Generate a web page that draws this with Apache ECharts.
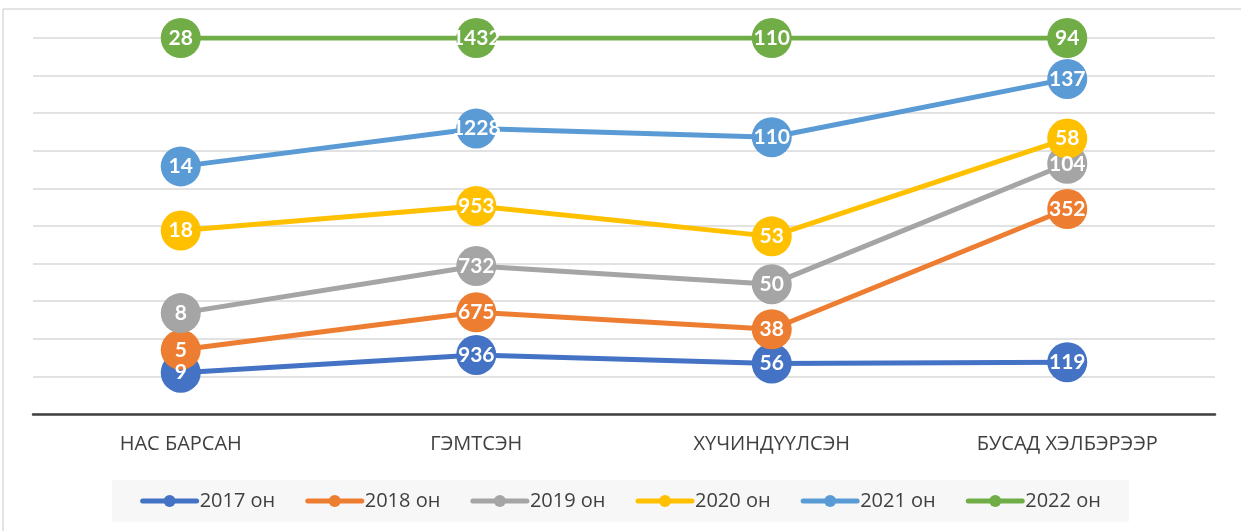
<!DOCTYPE html>
<html><head><meta charset="utf-8">
<script src="https://cdn.jsdelivr.net/npm/echarts@6/dist/echarts.min.js"></script>
<style>html,body{margin:0;padding:0;background:#fff}#c{width:1241px;height:531px}</style>
</head><body><div id="c"></div>
<script>
const categories = ['НАС БАРСАН', 'ГЭМТСЭН', 'ХҮЧИНДҮҮЛСЭН', 'БУСАД ХЭЛБЭРЭЭР'];
const seriesNames = ['2017 он', '2018 он', '2019 он', '2020 он', '2021 он', '2022 он'];
const v2017 = [9, 936, 56, 119];
const v2018 = [5, 675, 38, 352];
const v2019 = [8, 732, 50, 104];
const v2020 = [18, 953, 53, 58];
const v2021 = [14, 1228, 110, 137];
const v2022 = [28, 1432, 110, 94];
const yTicks = [0, 10, 20, 30, 40, 50, 60, 70, 80, 90, 100];

const raw = [v2017, v2018, v2019, v2020, v2021, v2022];
const colors = ['#4472C4', '#ED7D31', '#A5A5A5', '#FFC000', '#5B9BD5', '#70AD47'];
const totals = categories.map((c, i) => raw.reduce((s, arr) => s + arr[i], 0));
const pct = raw.map(arr => arr.map((v, i) => v / totals[i] * 100));

const chart = echarts.init(document.getElementById('c'), null, {renderer: 'canvas'});
const txtFont = "'Open Sans','Noto Sans',sans-serif";
chart.setOption({
  animation: false,
  backgroundColor: '#ffffff',
  graphic: [{
    type: 'rect', shape: {x: 3, y: 9, width: 1400, height: 700},
    style: {fill: 'none', stroke: '#c8c8c8', lineWidth: 1}, z: -10
  }],
  grid: {left: 33, right: 26, top: 38, bottom: 117, containLabel: false},
  legend: {
    data: seriesNames,
    bottom: 9, left: 'center',
    itemWidth: 54, itemHeight: 15, itemGap: 30,
    backgroundColor: '#f7f7f7',
    padding: [11, 28, 11, 28],
    lineStyle: {width: 5, cap: 'round'},
    textStyle: {fontSize: 20, color: '#404040', fontFamily: txtFont, padding: [0, 0, 0, -2]}
  },
  xAxis: {
    type: 'category', data: categories, boundaryGap: true,
    axisLine: {lineStyle: {color: '#404040', width: 2.5}},
    axisTick: {show: false},
    axisLabel: {fontSize: 20, color: '#404040', margin: 20, fontFamily: txtFont}
  },
  yAxis: {
    type: 'value', min: 0, max: 100, interval: 10,
    axisLabel: {show: false}, axisLine: {show: false}, axisTick: {show: false},
    splitLine: {lineStyle: {color: '#d9d9d9', width: 1.5}}
  },
  series: pct.map((d, si) => ({
    name: seriesNames[si], type: 'line', stack: 'total', data: d,
    symbol: 'circle', symbolSize: 40,
    lineStyle: {width: 5, color: colors[si]},
    itemStyle: {color: colors[si]},
    label: {
      show: true, position: 'inside', color: '#ffffff', fontWeight: 'bold',
      fontSize: 21, fontFamily: "Lato,'Liberation Sans',sans-serif",
      formatter: p => String(raw[si][p.dataIndex])
    }
  }))
});
</script></body></html>
